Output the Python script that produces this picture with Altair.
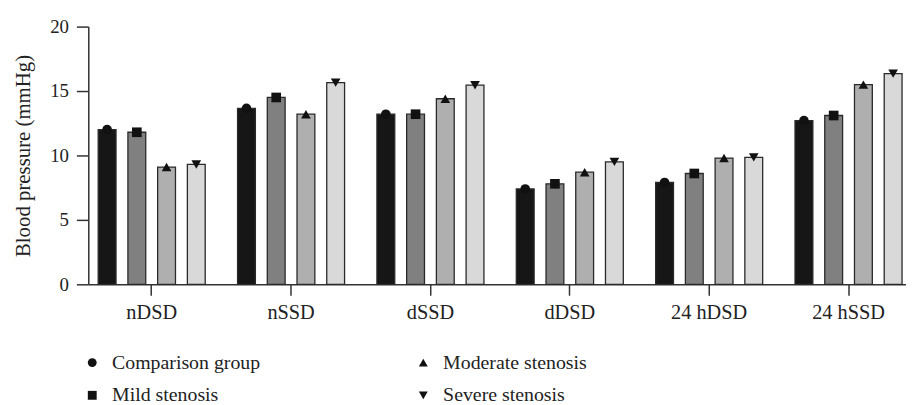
import altair as alt
import pandas as pd

categories = ["nDSD", "nSSD", "dSSD", "dDSD", "24 hDSD", "24 hSSD"]
groups = ["Comparison group", "Mild stenosis", "Moderate stenosis", "Severe stenosis"]
comparison = [12.0, 13.65, 13.2, 7.4, 7.9, 12.7]
mild = [11.8, 14.5, 13.2, 7.8, 8.6, 13.1]
moderate = [9.1, 13.2, 14.4, 8.7, 9.8, 15.5]
severe = [9.3, 15.65, 15.45, 9.5, 9.85, 16.35]

series = {"Comparison group": comparison, "Mild stenosis": mild,
          "Moderate stenosis": moderate, "Severe stenosis": severe}
rows = []
for g in groups:
    for c, v in zip(categories, series[g]):
        rows.append({"category": c, "group": g, "marker": g, "value": v})
df = pd.DataFrame(rows)

bar_colors = ["#161616", "#808080", "#afafaf", "#d9d9d9"]
shapes = ["circle", "square", "triangle-up", "triangle-down"]

FONT = "Liberation Serif"

x_enc = alt.X("category:N", sort=categories, title=None,
              scale=alt.Scale(range=[0, 831], paddingInner=0.09, paddingOuter=0),
              axis=alt.Axis(labelAngle=0, labelFontSize=20.5, labelPadding=7, tickSize=11,
                            tickWidth=1.5, domainWidth=1.5, domainColor="#333333",
                            tickColor="#333333", labelColor="#222222", labelFont=FONT))
xo_enc = alt.XOffset("group:N", sort=groups,
                     scale=alt.Scale(paddingInner=0.4, paddingOuter=0.333))
y_enc = alt.Y("value:Q", title="Blood pressure (mmHg)",
              scale=alt.Scale(domain=[0, 20], nice=False),
              axis=alt.Axis(values=[0, 5, 10, 15, 20], grid=False, tickSize=12,
                            tickWidth=1.5, domainWidth=1.5, domainColor="#333333",
                            tickColor="#333333", labelFontSize=19, labelPadding=8,
                            labelColor="#222222", labelFont=FONT, titleFont=FONT,
                            titleFontSize=21, titleFontWeight="normal", titleColor="#222222",
                            titlePadding=16))

# colour scale listed in reverse so that its domain differs from the shape legend's
bars = alt.Chart(df).mark_bar(stroke="#2a2a2a", strokeWidth=1.3).encode(
    x=x_enc, xOffset=xo_enc, y=y_enc,
    color=alt.Color("group:N", scale=alt.Scale(domain=groups[::-1], range=bar_colors[::-1]),
                    legend=None),
)

points = alt.Chart(df).mark_point(filled=True, opacity=1, color="#111111", size=95).encode(
    x=x_enc, xOffset=xo_enc, y=y_enc,
    shape=alt.Shape("marker:N", scale=alt.Scale(domain=groups, range=shapes),
                    legend=alt.Legend(title=None, orient="none", legendX=-6, legendY=329,
                                      columns=2, columnPadding=154, rowPadding=13,
                                      symbolSize=80, symbolFillColor="#111111",
                                      symbolStrokeWidth=0, labelFont=FONT, labelFontSize=20,
                                      labelColor="#222222", labelOffset=10, labelLimit=300)),
)

chart = alt.layer(bars, points).properties(
    width=825, height=260,
    autosize=alt.AutoSizeParams(type="none"),
    padding={"left": 81, "top": 17, "right": 0, "bottom": 120},
).configure_view(stroke=None).configure_axis(labelFont=FONT, titleFont=FONT)

chart.save("out.html", embed_options={"renderer": "svg", "actions": False})
